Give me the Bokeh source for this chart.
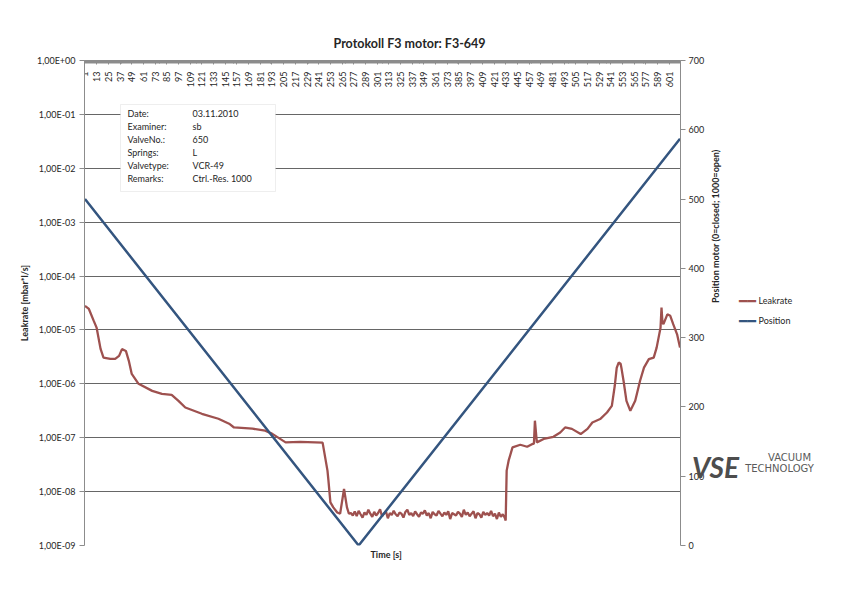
import math
from bokeh.plotting import figure
from bokeh.models import (Range1d, LinearAxis, LinearScale, FixedTicker,
                          CustomJSTickFormatter, Label, BoxAnnotation, Title)
from bokeh.core.properties import value
from bokeh.embed import file_html
from bokeh.resources import INLINE

# ---------------- data ----------------
N_SAMPLES = 612
title_text = "Protokoll F3 motor: F3-649"

cat_ticks = [1, 13, 25, 37, 49, 61, 73, 85, 97, 109, 121, 133, 145, 157, 169, 181,
             193, 205, 217, 229, 241, 253, 265, 277, 289, 301, 313, 325, 337, 349,
             361, 373, 385, 397, 409, 421, 433, 445, 457, 469, 481, 493, 505, 517,
             529, 541, 553, 565, 577, 589, 601]

log_ticks = [1e-9, 1e-8, 1e-7, 1e-6, 1e-5, 1e-4, 1e-3, 1e-2, 1e-1, 1.0]
log_tick_labels = ["1,00E-09", "1,00E-08", "1,00E-07", "1,00E-06", "1,00E-05",
                   "1,00E-04", "1,00E-03", "1,00E-02", "1,00E-01", "1,00E+00"]
pos_ticks = [0, 100, 200, 300, 400, 500, 600, 700]

# Leakrate: start section
leak_idx_a = [1, 5, 10, 13, 17, 20, 27, 32, 36, 39, 43, 46, 49, 56, 70, 80, 90, 97,
              104, 121, 138, 149, 154, 173, 186, 193, 207, 222, 245, 250, 251, 253,
              256, 260, 263, 267, 270, 272]
leak_val_a = [2.8e-5, 2.45e-5, 1.47e-5, 1.09e-5, 4.45e-6, 3.07e-6, 2.9e-6, 2.9e-6,
              3.3e-6, 4.4e-6, 4.08e-6, 2.67e-6, 1.53e-6, 1.0e-6, 7.4e-7, 6.5e-7,
              6.25e-7, 4.84e-7, 3.64e-7, 2.78e-7, 2.25e-7, 1.82e-7, 1.55e-7, 1.47e-7,
              1.35e-7, 1.19e-7, 8.2e-8, 8.4e-8, 8.1e-8, 2.45e-8, 1.6e-8, 6.3e-9,
              5.1e-9, 4.1e-9, 3.9e-9, 1.12e-8, 5.1e-9, 3.9e-9]
# Leakrate: closed (noise floor) section, every 2nd sample 274..432
leak_idx_b = list(range(274, 433, 2))
leak_val_b = [v * 1e-9 for v in [
    4.0, 3.6, 4.3, 3.5, 4.4, 3.8, 3.3, 4.1, 3.7, 4.6,
    3.9, 3.4, 4.2, 3.6, 4.0, 4.7, 3.5, 3.9, 4.3, 3.2,
    4.0, 3.7, 4.4, 3.8, 3.5, 4.1, 3.9, 3.3, 4.2, 4.6,
    3.7, 4.0, 3.5, 4.3, 3.8, 3.4, 4.1, 3.9, 4.5, 3.6,
    4.0, 3.2, 4.2, 3.8, 3.6, 4.4, 3.9, 3.5, 4.1, 3.7,
    4.3, 3.1, 4.0, 3.8, 3.6, 4.2, 3.9, 3.4, 4.6, 3.7,
    4.1, 3.5, 3.9, 4.3, 3.2, 4.0, 3.8, 3.3, 4.2, 3.7,
    4.0, 3.6, 4.4, 3.5, 3.9, 3.1, 4.1, 3.4, 3.8, 3.3]]
# Leakrate: opening section
leak_idx_c = [433, 434, 436, 440, 448, 455, 460, 462, 463, 465, 472, 482, 489, 494,
              501, 510, 517, 522, 530, 537, 542, 545, 547, 549, 551, 552, 554, 557,
              561, 566, 571, 575, 580, 585, 588, 590, 592, 593, 594, 595, 599, 602,
              605, 609, 612]
leak_val_c = [2.9e-9, 2.45e-8, 3.75e-8, 6.6e-8, 7.4e-8, 6.8e-8, 7.6e-8, 7.8e-8,
              2.07e-7, 8.2e-8, 9.5e-8, 1.04e-7, 1.25e-7, 1.55e-7, 1.46e-7, 1.17e-7,
              1.46e-7, 1.92e-7, 2.22e-7, 2.94e-7, 3.9e-7, 9.2e-7, 1.98e-6, 2.48e-6,
              2.35e-6, 1.9e-6, 1.14e-6, 4.84e-7, 3.16e-7, 4.84e-7, 1.14e-6, 2.0e-6,
              2.87e-6, 3.07e-6, 4.7e-6, 7.2e-6, 1.1e-5, 2.6e-5, 1.36e-5, 1.28e-5,
              1.95e-5, 1.83e-5, 1.28e-5, 8.3e-6, 4.7e-6]
leak_idx = leak_idx_a + leak_idx_b + leak_idx_c
leak_val = leak_val_a + leak_val_b + leak_val_c

# Position motor
pos_idx = [1, 282, 612]
pos_val = [500, 0, 587]

series_names = ["Leakrate", "Position"]
info_keys = ["Date:", "Examiner:", "ValveNo.:", "Springs:", "Valvetype:", "Remarks:"]
info_vals = ["03.11.2010", "sb", "650", "L", "VCR-49", "Ctrl.-Res. 1000"]
stamp_text = ["VSE", "VACUUM", "TECHNOLOGY"]

# ---------------- styling ----------------
FONT = "Lato"
TXT = "#262626"
AX = "#8c8c8c"
LEAK_COL = "#9E514F"
POS_COL = "#34557F"

W, H = 842, 594
p = figure(width=W, height=H, output_backend="svg", toolbar_location=None,
           y_axis_type="log", x_range=Range1d(0.5, N_SAMPLES + 0.5),
           y_range=Range1d(1e-9, 1.0), x_axis_location="above",
           min_border_left=84, min_border_right=W - 680, min_border_top=60,
           min_border_bottom=H - 545, background_fill_color="white",
           border_fill_color="white")
p.outline_line_color = None
p.title.text = ""
p.extra_y_ranges = {"pos": Range1d(0, 700)}
p.extra_y_scales = {"pos": LinearScale()}

# top category axis (dense tick marks, labels drawn inside the plot)
xa = p.xaxis[0]
xa.ticker = FixedTicker(ticks=cat_ticks, minor_ticks=list(range(1, N_SAMPLES + 1)))
xa.formatter = CustomJSTickFormatter(code="return ''")
xa.axis_line_color = AX
xa.major_tick_line_color = AX
xa.minor_tick_line_color = AX
xa.major_tick_in = 4
xa.major_tick_out = 0
xa.minor_tick_in = 3
xa.minor_tick_out = 0
xa.major_label_text_font_size = "1px"
xa.major_label_standoff = 0
p.xgrid.visible = False

# main title (explicitly in the top panel, next to the axis)
p.add_layout(Title(text=title_text, align="left", offset=249, text_font=FONT,
                   text_font_size="12.5px", text_font_style="bold",
                   text_color=TXT, standoff=19), "above")

p.text(x=cat_ticks, y=[1.0] * len(cat_ticks), text=[str(c) for c in cat_ticks],
       angle=math.pi / 2, text_align="right", text_baseline="middle", y_offset=11,
       text_font=value(FONT), text_font_size="9px", text_color=TXT)

# bottom axis title
p.add_layout(Title(text="Time [s]", align="left", offset=286, text_font=FONT,
                   text_font_size="9px", text_font_style="bold",
                   text_color=TXT, standoff=2), "below")

# left log axis
ya = p.yaxis[0]
ya.ticker = FixedTicker(ticks=log_ticks)
ya.formatter = CustomJSTickFormatter(
    args=dict(t=log_ticks, l=log_tick_labels),
    code="""
let best = 0, bd = 1e9;
for (let i = 0; i < t.length; i++) {
  const d = Math.abs(Math.log10(t[i]) - Math.log10(tick));
  if (d < bd) { bd = d; best = i; }
}
return l[best];
""")
ya.major_label_text_font = FONT
ya.major_label_text_font_size = "9px"
ya.major_label_text_color = TXT
ya.axis_line_color = AX
ya.major_tick_line_color = AX
ya.minor_tick_line_color = None
ya.major_tick_out = 5
ya.major_tick_in = 0
ya.major_label_standoff = 4
ya.axis_label = "Leakrate [mbar*l/s]"
ya.axis_label_text_font = FONT
ya.axis_label_text_font_size = "9px"
ya.axis_label_text_font_style = "bold"
ya.axis_label_text_color = TXT
ya.axis_label_standoff = 4

p.ygrid.grid_line_color = "#666666"
p.ygrid.grid_line_width = 1
p.ygrid.minor_grid_line_color = None

# right linear axis
ra = LinearAxis(y_range_name="pos", ticker=FixedTicker(ticks=pos_ticks))
ra.major_label_text_font = FONT
ra.major_label_text_font_size = "9px"
ra.major_label_text_color = TXT
ra.axis_line_color = AX
ra.major_tick_line_color = AX
ra.minor_tick_line_color = None
ra.major_tick_out = 5
ra.major_tick_in = 0
ra.major_label_standoff = 3
ra.axis_label = "Position motor (0=closed; 1000=open)"
ra.axis_label_text_font = FONT
ra.axis_label_text_font_size = "9px"
ra.axis_label_text_font_style = "bold"
ra.axis_label_text_color = TXT
ra.axis_label_standoff = 8
if hasattr(ra, "axis_label_orientation"):
    ra.axis_label_orientation = math.pi / 2
p.add_layout(ra, "right")

# lines
leak_r = p.line(leak_idx, leak_val, line_color=LEAK_COL, line_width=2.3)
pos_r = p.line(pos_idx, pos_val, y_range_name="pos", line_color=POS_COL, line_width=2.5)

# legend, drawn in the right panel (line key + name)
for name, col, yy in zip(series_names, [LEAK_COL, POS_COL], [300, 320]):
    p.add_layout(Label(x=747, y=yy, x_units="canvas", y_units="canvas",
                       text="\u2501\u2501", text_align="center",
                       text_baseline="middle", text_font="DejaVu Sans",
                       text_font_size="14px", text_color=col), "right")
    p.add_layout(Label(x=758, y=yy, x_units="canvas", y_units="canvas",
                       text=name, text_align="left", text_baseline="middle",
                       text_font=FONT, text_font_size="9px", text_color=TXT), "right")

# info box (inside the plot area)
box = BoxAnnotation(left=120, right=275, top=104, bottom=191,
                    left_units="canvas", right_units="canvas",
                    top_units="canvas", bottom_units="canvas",
                    fill_color="white", fill_alpha=1.0,
                    line_color="#c8c8c8", line_width=1)
p.add_layout(box)
for i, (k, v) in enumerate(zip(info_keys, info_vals)):
    yy = 113 + 13 * i
    for xx, t in ((127, k), (192, v)):
        p.add_layout(Label(x=xx, y=yy, x_units="canvas", y_units="canvas", text=t,
                           text_align="left", text_baseline="middle",
                           text_font=FONT, text_font_size="9px", text_color=TXT))

# company stamp (labels placed in the side panels, canvas coordinates)
p.add_layout(Label(x=715, y=466, x_units="canvas", y_units="canvas",
                   text=stamp_text[0], text_align="center", text_baseline="middle",
                   text_font=FONT, text_font_size="28px",
                   text_font_style="bold italic", text_color="#4d4d4d"), "below")
p.add_layout(Label(x=789, y=457, x_units="canvas", y_units="canvas",
                   text=stamp_text[1], text_align="center", text_baseline="middle",
                   text_font="DejaVu Sans", text_font_size="10px",
                   text_color="#5a5a5a"), "above")
p.add_layout(Label(x=779, y=468, x_units="canvas", y_units="canvas",
                   text=stamp_text[2], text_align="center", text_baseline="middle",
                   text_font="DejaVu Sans", text_font_size="10px",
                   text_color="#5a5a5a"), "above")

open("out.html", "w").write(file_html(p, INLINE))
